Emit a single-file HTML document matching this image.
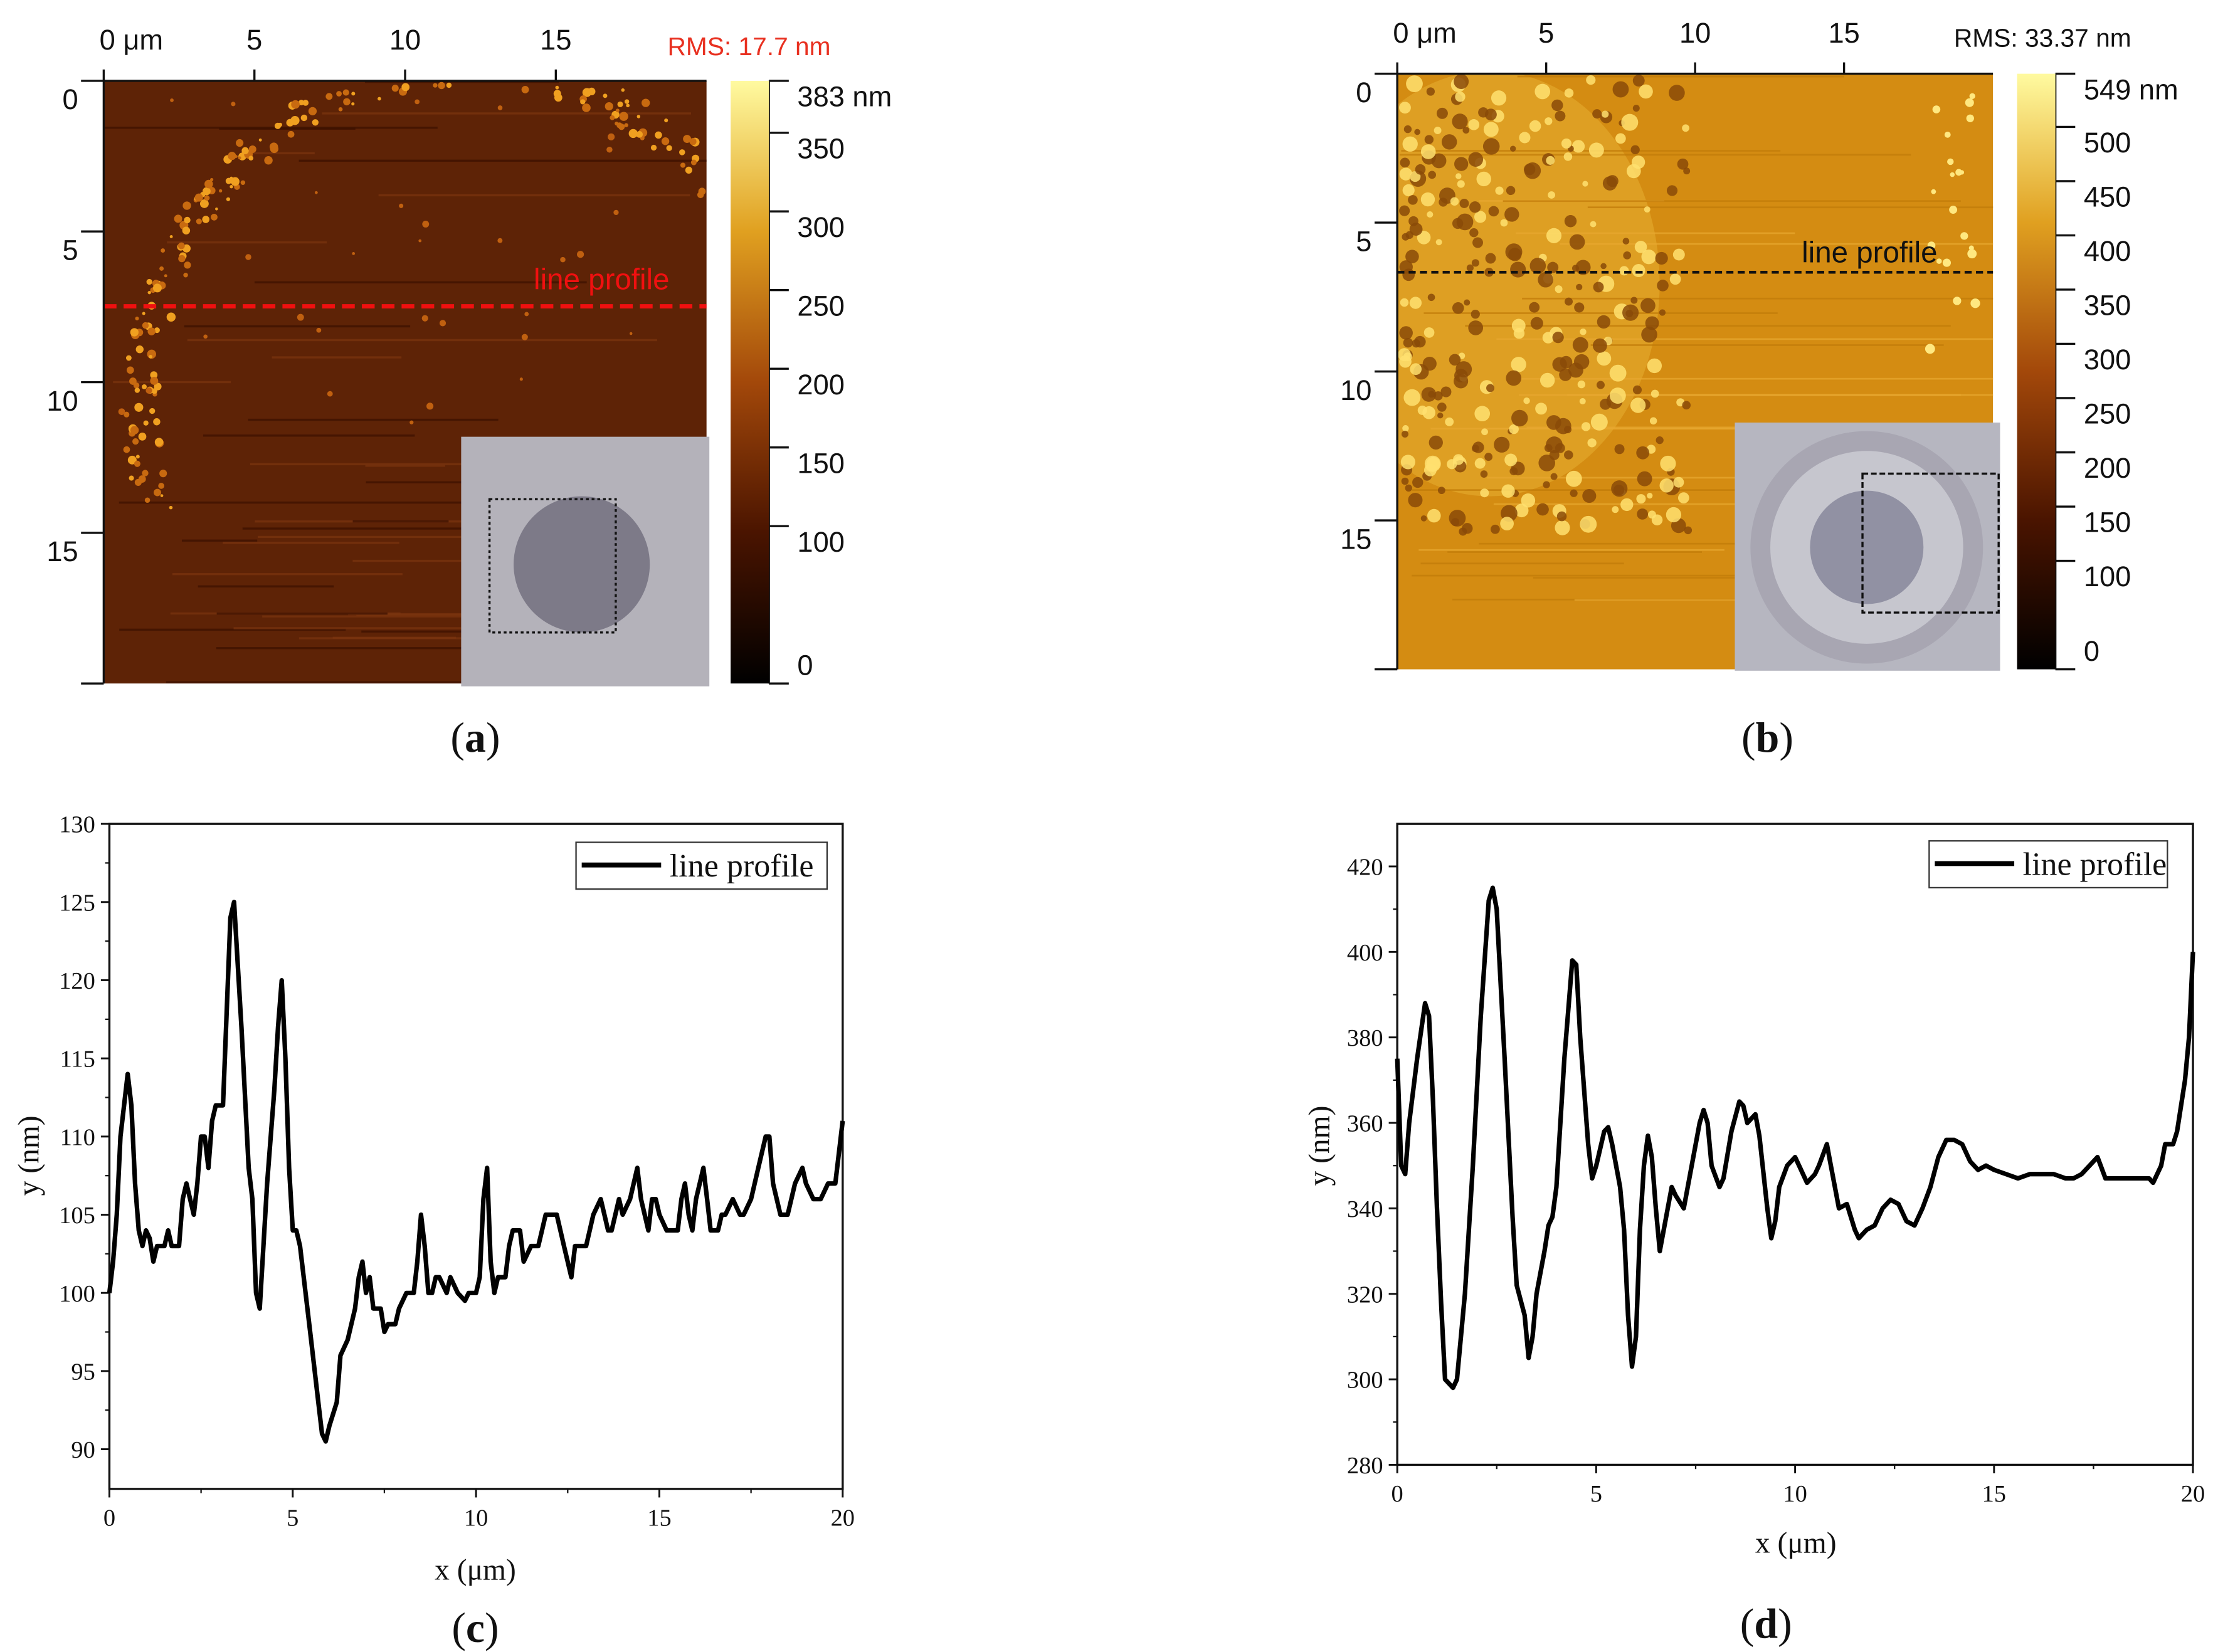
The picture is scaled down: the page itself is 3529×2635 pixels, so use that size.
<!DOCTYPE html>
<html><head><meta charset="utf-8"><style>
html,body{margin:0;padding:0;background:#fff}
svg{display:block}
.ar{font-family:"Liberation Sans",sans-serif;font-size:20px;fill:#111}
.tm{font-family:"Liberation Serif",serif;font-size:17px;fill:#111}
</style></head><body>
<svg id="fig" width="3529" height="2635" viewBox="0 0 1560 1165" xmlns="http://www.w3.org/2000/svg">
<defs>
<linearGradient id="cbA" x1="0" y1="1" x2="0" y2="0">
<stop offset="0" stop-color="#000"/><stop offset="0.25" stop-color="#4a1400"/><stop offset="0.5" stop-color="#a3480a"/><stop offset="0.75" stop-color="#e0a020"/><stop offset="1" stop-color="#fffaa0"/></linearGradient>
<clipPath id="clA"><rect x="73" y="57" width="425" height="425"/></clipPath>
<clipPath id="clB"><rect x="985" y="52" width="420" height="420"/></clipPath>
</defs>
<!-- Panel a -->
<g>
<rect x="73" y="57" width="425" height="425" fill="#5e2306"/>
<g id="specA" clip-path="url(#clA)"></g>
<line x1="73" y1="216" x2="498" y2="216" stroke="#f01010" stroke-width="3" stroke-dasharray="9,5"/>
<text x="424" y="204" fill="#f01010" font-family="Liberation Sans,sans-serif" font-size="21" text-anchor="middle">line profile</text>
<g>
<rect x="325" y="308" width="175" height="176" fill="#b4b2ba"/>
<circle cx="410" cy="398" r="48" fill="#7d7a88"/>
<rect x="345" y="352" width="89" height="94" fill="none" stroke="#111" stroke-width="1.5" stroke-dasharray="2,2"/>
</g>
</g>
<g id="axA"></g>
<text x="528" y="39" fill="#e83020" font-family="Liberation Sans,sans-serif" font-size="18" text-anchor="middle">RMS: 17.7 nm</text>
<rect x="515" y="57" width="27" height="425" fill="url(#cbA)"/>
<!-- Panel b -->
<g>
<rect x="985" y="52" width="420" height="420" fill="#d48c12"/>
<g id="specB" clip-path="url(#clB)">
<ellipse cx="1050" cy="200" rx="120" ry="150" fill="#e0a428" opacity="0.8"/>
</g>
<line x1="985" y1="192" x2="1405" y2="192" stroke="#111" stroke-width="2" stroke-dasharray="5,3"/>
<text x="1318" y="185" fill="#111" font-family="Liberation Sans,sans-serif" font-size="21" text-anchor="middle">line profile</text>
<g>
<rect x="1223" y="298" width="187" height="175" fill="#b6b6c0"/>
<circle cx="1316" cy="386" r="82" fill="#a8a6b2"/>
<circle cx="1316" cy="386" r="68" fill="#c6c6ce"/>
<circle cx="1316" cy="386" r="40" fill="#7a7a92" opacity="0.7"/>
<rect x="1313" y="334" width="96" height="98" fill="none" stroke="#111" stroke-width="1.5" stroke-dasharray="4,2"/>
</g>
</g>
<g id="axB"></g>
<text x="1440" y="33" class="ar" style="font-size:18px" text-anchor="middle">RMS: 33.37 nm</text>
<rect x="1422" y="52" width="27" height="420" fill="url(#cbA)"/>
<g font-family="Liberation Serif,serif" font-size="30" text-anchor="middle" fill="#111">
<text x="335" y="530">(<tspan font-weight="bold">a</tspan>)</text>
<text x="1246" y="530">(<tspan font-weight="bold">b</tspan>)</text>
<text x="335" y="1158">(<tspan font-weight="bold">c</tspan>)</text>
<text x="1245" y="1155">(<tspan font-weight="bold">d</tspan>)</text>
</g>
<g id="chartC"></g>
<g id="chartD"></g>
</svg>
<script>
const NS="http://www.w3.org/2000/svg";
function mk(p,t,a,txt){const e=document.createElementNS(NS,t);for(const k in a)e.setAttribute(k,a[k]);if(txt!==undefined)e.textContent=txt;p.appendChild(e);return e;}

// Chart c data
const cX=[0,0.1,0.2,0.3,0.5,0.6,0.7,0.8,0.9,1.0,1.1,1.2,1.3,1.5,1.6,1.7,1.8,1.9,2.0,2.1,2.2,2.3,2.4,2.5,2.6,2.7,2.8,2.9,3.1,3.2,3.3,3.4,3.5,3.6,3.8,3.9,4.0,4.1,4.2,4.3,4.5,4.6,4.7,4.8,4.9,5.0,5.1,5.2,5.3,5.5,5.7,5.8,5.9,6.0,6.2,6.3,6.5,6.7,6.8,6.9,7.0,7.1,7.2,7.4,7.5,7.6,7.8,7.9,8.1,8.3,8.4,8.5,8.6,8.7,8.8,8.9,9.0,9.2,9.3,9.5,9.7,9.8,10.0,10.1,10.2,10.3,10.4,10.5,10.6,10.8,10.9,11.0,11.2,11.3,11.5,11.7,11.8,11.9,12.2,12.4,12.5,12.6,12.7,12.8,13.0,13.2,13.4,13.5,13.6,13.7,13.9,14.0,14.2,14.4,14.5,14.6,14.7,14.8,14.9,15.0,15.2,15.5,15.6,15.7,15.8,15.9,16.0,16.2,16.3,16.4,16.6,16.7,16.8,17.0,17.2,17.3,17.5,17.7,17.9,18.0,18.1,18.3,18.5,18.7,18.9,19.0,19.2,19.4,19.6,19.8,20.0];
const cY=[100,102,105,110,114,112,107,104,103,104,103.5,102,103,103,104,103,103,103,106,107,106,105,107,110,110,108,111,112,112,118,124,125,121,117,108,106,100,99,103,107,113,117,120,115,108,104,104,103,101,97,93,91,90.5,91.5,93,96,97,99,101,102,100,101,99,99,97.5,98,98,99,100,100,102,105,103,100,100,101,101,100,101,100,99.5,100,100,101,106,108,102,100,101,101,103,104,104,102,103,103,104,105,105,103,102,101,103,103,103,105,106,105,104,104,106,105,106,108,106,105,104,106,106,105,104,104,106,107,105,104,106,108,106,104,104,105,105,106,105,105,106,108,110,110,107,105,105,107,108,107,106,106,107,107,111];
const cXTicks=[0,5,10,15,20];
const cYTicks=[90,95,100,105,110,115,120,125,130];
// Chart d data
const dX=[0,0.1,0.2,0.3,0.5,0.7,0.8,0.9,1.0,1.1,1.2,1.4,1.5,1.7,1.9,2.1,2.3,2.4,2.5,2.7,2.9,3.0,3.2,3.3,3.4,3.5,3.7,3.8,3.9,4.0,4.2,4.4,4.5,4.6,4.8,4.9,5.0,5.2,5.3,5.4,5.6,5.7,5.8,5.9,6.0,6.1,6.2,6.3,6.4,6.5,6.6,6.7,6.8,6.9,7.0,7.2,7.4,7.6,7.7,7.8,7.9,8.1,8.2,8.4,8.6,8.7,8.8,9.0,9.1,9.3,9.4,9.5,9.6,9.8,10.0,10.1,10.3,10.5,10.6,10.8,10.9,11.1,11.3,11.5,11.6,11.8,12.0,12.2,12.4,12.6,12.8,13.0,13.2,13.4,13.6,13.8,14.0,14.2,14.4,14.6,14.8,15.0,15.3,15.6,15.9,16.2,16.5,16.8,17.0,17.2,17.6,17.8,18.0,18.3,18.6,18.9,19.0,19.2,19.3,19.5,19.6,19.8,19.9,20.0];
const dY=[375,350,348,360,375,388,385,365,340,318,300,298,300,320,350,385,412,415,410,375,338,322,315,305,310,320,330,336,338,345,375,398,397,380,355,347,350,358,359,355,345,335,315,303,310,335,350,357,352,340,330,335,340,345,343,340,350,360,363,360,350,345,347,358,365,364,360,362,357,340,333,337,345,350,352,350,346,348,350,355,350,340,341,335,333,335,336,340,342,341,337,336,340,345,352,356,356,355,351,349,350,349,348,347,348,348,348,347,347,348,352,347,347,347,347,347,346,350,355,355,358,370,380,400];
const dXTicks=[0,5,10,15,20];
const dYTicks=[280,300,320,340,360,380,400,420];
// colorbar tick labels
const cbALabels=["383 nm","350","300","250","200","150","100","0"];
const cbAVals=[383,350,300,250,200,150,100,0];
const cbBLabels=["549 nm","500","450","400","350","300","250","200","150","100","0"];
const cbBVals=[549,500,450,400,350,300,250,200,150,100,0];

function chart(g,o){
  const sx=v=>o.x0+(v-o.xmin)/(o.xmax-o.xmin)*(o.x1-o.x0);
  const sy=v=>o.yb-(v-o.ymin)/(o.ymax-o.ymin)*(o.yb-o.yt);
  const fr=mk(g,'rect',{x:o.x0,y:o.yt,width:o.x1-o.x0,height:o.yb-o.yt,fill:'none',stroke:'#111','stroke-width':1.5});
  
  
  o.xt.forEach((v,i)=>{
    const x=sx(v);mk(g,'line',{x1:x,y1:o.yb,x2:x,y2:o.yb+6,stroke:'#111','stroke-width':1.3});
    if(i<o.xt.length-1){const xm=sx(v+(o.xt[1]-o.xt[0])/2);mk(g,'line',{x1:xm,y1:o.yb,x2:xm,y2:o.yb+3,stroke:'#111'});}
    const t=mk(g,'text',{x:x,y:o.yb+26,class:'tm','text-anchor':'middle'},String(v));
    
    
  });
  o.yt2.forEach((v,i)=>{
    const y=sy(v);mk(g,'line',{x1:o.x0,y1:y,x2:o.x0-6,y2:y,stroke:'#111','stroke-width':1.3});
    const ym=sy(v+(o.yt2[1]-o.yt2[0])/2);if(ym>o.yt)mk(g,'line',{x1:o.x0,y1:ym,x2:o.x0-3,y2:ym,stroke:'#111'});
    const t=mk(g,'text',{x:o.x0-10,y:y+6,class:'tm','text-anchor':'end'},String(v));
    
    
  });
  let d='';o.X.forEach((v,i)=>{d+=(i?'L':'M')+sx(v).toFixed(1)+','+sy(o.Y[i]).toFixed(1);});
  const p=mk(g,'path',{d:d,fill:'none',stroke:'#000','stroke-width':3.2,'stroke-linejoin':'round'});
  
  
  const xt=mk(g,'text',{x:o.xlx,y:o.xly,class:'tm',style:'font-size:21px','text-anchor':'middle'},'x (μm)');
  
  
  const yt=mk(g,'text',{x:o.ylx,y:o.yly,class:'tm',style:'font-size:21px','text-anchor':'middle',transform:`rotate(-90 ${o.ylx} ${o.yly})`},'y (nm)');
  
  
  const lg=mk(g,'g',{});
  
  
  mk(lg,'rect',{x:o.lx,y:o.ly,width:o.lw,height:33,fill:'#fff',stroke:'#333'});
  mk(lg,'line',{x1:o.lx+4,y1:o.ly+16,x2:o.lx+60,y2:o.ly+16,stroke:'#000','stroke-width':3.5});
  mk(lg,'text',{x:o.lx+66,y:o.ly+24,class:'tm',style:'font-size:23px'},'line profile');
}
chart(document.getElementById('chartC'),{x0:77,x1:594,yt:581,yb:1050,xmin:0,xmax:20,ymin:130-(1050-581)/(441/40),ymax:130,xt:cXTicks,yt2:cYTicks,X:cX,Y:cY,xlx:335,xly:1114,ylx:27,yly:815,lx:406,ly:594,lw:177});
chart(document.getElementById('chartD'),{x0:985,x1:1546,yt:581,yb:1033,xmin:0,xmax:20,ymin:280,ymax:280+(1033-581)/((1033-611)/140),xt:dXTicks,yt2:dYTicks,X:dX,Y:dY,xlx:1266,xly:1095,ylx:937,yly:808,lx:1360,ly:593,lw:168});

// AFM axes
function afmAx(g,o){
  ['0 μm','5','10','15'].forEach((s,i)=>{
    const x=o.x0+i*o.step;mk(g,'line',{x1:x,y1:o.y0,x2:x,y2:o.y0-8,stroke:'#111','stroke-width':1.5});
    const t=mk(g,'text',{x:i?x:x-3,y:o.y0-22,class:'ar','text-anchor':i?'middle':'start'},s);
    
    
  });
  mk(g,'line',{x1:o.x0,y1:o.y0,x2:o.x0+o.size,y2:o.y0,stroke:'#111','stroke-width':1.5});
  mk(g,'line',{x1:o.x0,y1:o.y0,x2:o.x0,y2:o.y0+o.size,stroke:'#111','stroke-width':1.5});
  for(let i=0;i<=4;i++){const y=o.y0+i*o.step;mk(g,'line',{x1:o.x0,y1:y,x2:o.x0-16,y2:y,stroke:'#111','stroke-width':1.5});
    if(i<4){const t=mk(g,'text',{x:o.x0-18,y:y+20,class:'ar','text-anchor':'end'},String(i*5));
    
    }}
  const cx=o.cb+27;
  o.cv.forEach((v,i)=>{const y=o.y0+o.size-v/o.cmax*o.size;
    mk(g,'line',{x1:cx,y1:y,x2:cx+14,y2:y,stroke:'#111','stroke-width':1.5});
    const t=mk(g,'text',{x:cx+20,y:i==o.cv.length-1?y-6:y+18,class:'ar'},o.cl[i]);
    
    });
  mk(g,'line',{x1:cx,y1:o.y0,x2:cx,y2:o.y0+o.size,stroke:'#111','stroke-width':1.5});
}
afmAx(document.getElementById('axA'),{x0:73,y0:57,step:106.25,size:425,cb:515,cv:cbAVals,cl:cbALabels,cmax:383});
afmAx(document.getElementById('axB'),{x0:985,y0:52,step:105,size:420,cb:1422,cv:cbBVals,cl:cbBLabels,cmax:549});

// textures
let s=7;const rnd=()=>{s=(s*16807)%2147483647;return s/2147483647;};
const gA=document.getElementById('specA');
for(let i=0;i<40;i++){const y=57+rnd()*425;mk(gA,'rect',{x:73+rnd()*200,y:y,width:50+rnd()*300,height:1.5,fill:rnd()<0.5?'#3a1000':'#7a3410',opacity:0.7});}
for(let i=0;i<260;i++){const t=rnd();const ang=Math.PI*(0.15+t*0.95);const r=230+rnd()*25;
  const x=330+Math.cos(ang)*r*0.95;const y=290-Math.sin(ang)*r;
  if(x>75&&x<496&&y>60&&y<480)mk(gA,'circle',{cx:x,cy:y,r:1+rnd()*2.2,fill:rnd()<0.5?'#f0a020':'#c86a10'});}
for(let i=0;i<30;i++){mk(gA,'circle',{cx:80+rnd()*410,cy:60+rnd()*240,r:1+rnd()*1.5,fill:'#c06010'});}
const gB=document.getElementById('specB');
for(let i=0;i<30;i++){mk(gB,'rect',{x:985+rnd()*150,y:52+rnd()*420,width:100+rnd()*300,height:1.2,fill:rnd()<0.5?'#e8a830':'#c07a08',opacity:0.7});}
for(let i=0;i<320;i++){const x=990+Math.pow(rnd(),1.3)*200;const y=56+rnd()*320;
  mk(gB,'circle',{cx:x,cy:y,r:2+rnd()*4,fill:rnd()<0.6?'#8a4a08':'#ffe070',opacity:0.85});}
for(let i=0;i<20;i++){mk(gB,'circle',{cx:1360+rnd()*40,cy:60+rnd()*200,r:1.5+rnd()*2,fill:'#ffe880'});}
</script>
</body></html>
